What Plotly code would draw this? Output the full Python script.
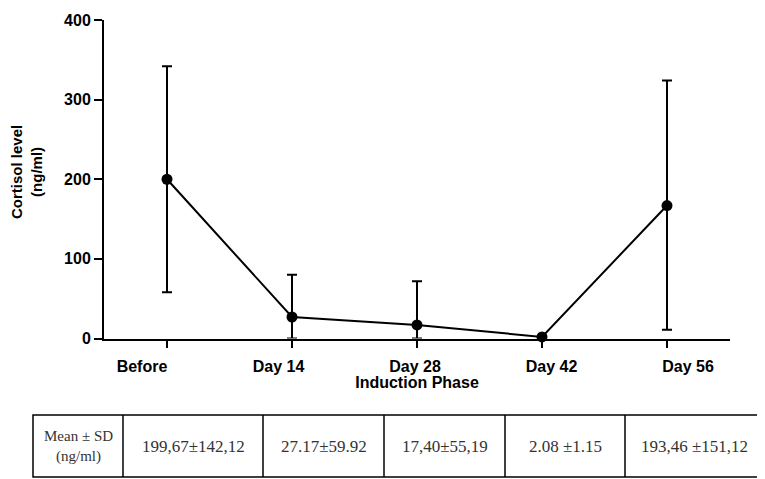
import plotly.graph_objects as go

# ---- data ----
categories = ["Before", "Day 14", "Day 28", "Day 42", "Day 56"]
means = [200, 27, 17, 2, 167]
err_plus = [142, 53, 55, 1, 157]
err_minus = [142, 27, 17, 1, 156]
y_ticks = [0, 100, 200, 300, 400]
table_head = "Mean ± SD<br>(ng/ml)"
table_values = ["199,67±142,12", "27.17±59.92", "17,40±55,19", "2.08 ±1.15", "193,46 ±151,12"]

# the page body has an 8px margin: size the figure to fill the rest of the window
OFF = 8
W, H = 765 - OFF, 479 - OFF
def px(x):
    return (x - OFF) / W
def py(y):
    return 1 - (y - OFF) / H

xs = list(range(len(categories)))

fig = go.Figure()
fig.add_trace(go.Scatter(
    x=xs, y=means, mode="lines+markers",
    line=dict(color="black", width=2),
    marker=dict(color="black", size=11),
    error_y=dict(type="data", array=err_plus, arrayminus=err_minus, symmetric=False,
                 color="black", thickness=2, width=5),
    cliponaxis=False, showlegend=False, hoverinfo="x+y",
))
# invisible helper trace so the label axis is drawn
fig.add_trace(go.Scatter(x=xs, y=[None] * len(xs), xaxis="x2", yaxis="y",
                         mode="markers", showlegend=False, hoverinfo="skip"))

x_left, x_right = 104, 730
bold = dict(family="Liberation Sans, Arial, sans-serif", size=16, color="black", weight="bold")

fig.update_layout(
    template="none",
    width=W, height=H, autosize=False,
    margin=dict(l=0, r=0, t=0, b=0, pad=0),
    paper_bgcolor="white", plot_bgcolor="white",
    xaxis=dict(domain=[px(x_left), px(x_right)], automargin=False,
               range=[(x_left - 167) / 125, (x_right - 167) / 125],
               tickvals=xs, showticklabels=False,
               showline=True, linecolor="black", linewidth=2,
               ticks="outside", ticklen=7, tickwidth=2, tickcolor="black",
               showgrid=False, zeroline=False),
    xaxis2=dict(domain=[px(x_left), px(x_right)], overlaying="x", anchor="y", side="bottom",
                automargin=False,
                range=[(x_left - 142) / 136.5, (x_right - 142) / 136.5],
                tickvals=xs, ticktext=categories, tickfont=bold,
                showline=False, ticks="", showgrid=False, zeroline=False,
                ticklabelstandoff=16,
                title=dict(text="Induction Phase", font=bold, standoff=0)),
    yaxis=dict(domain=[py(338.5), py(20)], range=[0, 400], automargin=False,
               tickvals=y_ticks, tickfont=bold,
               showline=True, linecolor="black", linewidth=2,
               ticks="outside", ticklen=8, tickwidth=2, tickcolor="black",
               showgrid=False, zeroline=False),
)

fig.add_annotation(xref="paper", yref="paper", x=px(27), y=py(172),
                   xanchor="center", yanchor="middle",
                   text="Cortisol level<br>(ng/ml)", textangle=-90, showarrow=False,
                   font=dict(family="Liberation Sans, Arial, sans-serif", size=15,
                             color="black", weight="bold"))

# ---- table below the chart ----
col_edges = [33, 123, 263, 384, 505, 625, 763]
t_top, t_bot = 415, 477
fig.add_shape(type="rect", xref="paper", yref="paper",
              x0=px(col_edges[0]), x1=px(col_edges[-1]), y0=py(t_bot), y1=py(t_top),
              line=dict(color="black", width=1.5))
for e in col_edges[1:-1]:
    fig.add_shape(type="line", xref="paper", yref="paper",
                  x0=px(e), x1=px(e), y0=py(t_bot), y1=py(t_top),
                  line=dict(color="black", width=1.5))
cells = [table_head] + table_values
for i, txt in enumerate(cells):
    cx = (col_edges[i] + col_edges[i + 1]) / 2
    fig.add_annotation(xref="paper", yref="paper", x=px(cx), y=py((t_top + t_bot) / 2),
                       xanchor="center", yanchor="middle",
                       text=txt, showarrow=False,
                       font=dict(family="Liberation Serif, Times New Roman, serif",
                                 size=15 if i == 0 else 17, color="#333333"))

fig.write_html("out.html")
